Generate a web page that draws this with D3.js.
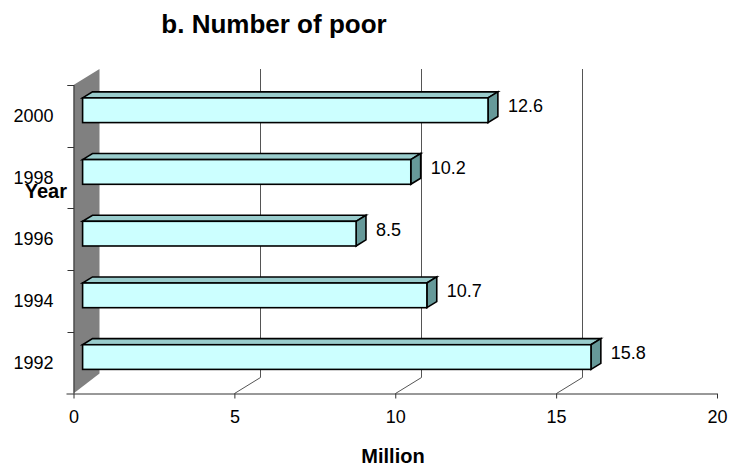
<!DOCTYPE html>
<html>
<head>
<meta charset="utf-8">
<script src="https://cdn.jsdelivr.net/npm/d3@7/dist/d3.min.js"></script>
<style>
  html, body { margin: 0; padding: 0; background: #fff; }
  svg { display: block; font-family: Arial, "Liberation Sans", sans-serif; }
</style>
</head>
<body>
<svg id="chart" width="734" height="468"></svg>
<script>
// Number of poor by survey year (million)
const years = ["1992", "1994", "1996", "1998", "2000"];
const poor = [15.8, 10.7, 8.5, 10.2, 12.6];
const xTicks = [0, 5, 10, 15, 20];

const svg = d3.select("#chart");
const W = 734, H = 468;

// front plane of the 3D plot box
const plot = { left: 73.5, right: 717, top: 85, bottom: 393.5 };
// depth vector of the box (towards the back wall)
const DX = 26, DY = -16;
// bars sit between these depth fractions
const dFront = 0.35, dBack = 0.73;

const x = d3.scaleLinear().domain([0, 20]).range([plot.left, plot.right]);
const y = d3.scaleBand().domain(years).range([plot.bottom, plot.top]).paddingInner(0).paddingOuter(0);
const barH = y.bandwidth() * 0.4;

// left wall
const wall = [
  [plot.left, plot.top], [plot.left + DX, plot.top + DY],
  [plot.left + DX, plot.bottom + DY - 4], [plot.left, plot.bottom]
];
svg.append("polygon")
  .attr("points", wall.map(p => p.join(",")).join(" "))
  .attr("fill", "#808080")
  .attr("stroke", "none");

// gridlines on the back wall, joined to the front axis by a floor diagonal
const grid = svg.append("g").attr("stroke", "#555").attr("stroke-width", 1).attr("fill", "none");
xTicks.filter(t => t > 0 && x(t) + DX < W).forEach(t => {
  const bx = Math.round(x(t) + DX) + 0.5;
  grid.append("path")
    .attr("d", `M${bx},${plot.top + DY} L${bx},${plot.bottom + DY} L${Math.round(x(t)) + 0.5},${plot.bottom}`);
});

// x axis
const xAxis = svg.append("g")
  .attr("transform", `translate(0,${plot.bottom})`)
  .call(d3.axisBottom(x).tickValues(xTicks).tickSize(5).tickPadding(12).tickFormat(d3.format("d")));
xAxis.select(".domain").attr("d", `M${plot.left - 7},0.5H${plot.right}`).attr("stroke", "#333");
xAxis.selectAll(".tick line").attr("stroke", "#333");
xAxis.selectAll(".tick text").attr("font-size", 18).attr("fill", "#000")
  .attr("font-family", "Arial, 'Liberation Sans', sans-serif");

// y axis: ticks on category boundaries, labels centred in each band
const yAxisG = svg.append("g").attr("transform", `translate(${plot.left},0)`);
yAxisG.append("line")
  .attr("x1", 0.5).attr("x2", 0.5).attr("y1", plot.top).attr("y2", plot.bottom)
  .attr("stroke", "#333");
const bounds = years.map(c => y(c)).concat([plot.top]);
yAxisG.selectAll("line.bt").data(bounds).join("line")
  .attr("class", "bt")
  .attr("x1", -6).attr("x2", 0.5)
  .attr("y1", d => Math.round(d) + 0.5).attr("y2", d => Math.round(d) + 0.5)
  .attr("stroke", "#333");
yAxisG.selectAll("text").data(years).join("text")
  .attr("x", -20)
  .attr("y", d => y(d) + y.bandwidth() / 2)
  .attr("text-anchor", "end")
  .attr("dominant-baseline", "central")
  .attr("font-size", 18)
  .text(d => d);

// 3D bars
const fdx = DX * dFront, fdy = DY * dFront;
const bdx = DX * (dBack - dFront), bdy = DY * (dBack - dFront);
const bars = svg.append("g");
years.forEach((c, i) => {
  const v = poor[i];
  const x0 = x(0) + fdx, x1 = x(v) + fdx;
  const cy = y(c) + y.bandwidth() / 2 + fdy;
  const yt = cy - barH / 2, yb = cy + barH / 2;
  const g = bars.append("g").attr("stroke", "#000").attr("stroke-width", 1.6).attr("stroke-linejoin", "miter");
  g.append("polygon")
    .attr("points", [[x0, yt], [x1, yt], [x1 + bdx, yt + bdy], [x0 + bdx, yt + bdy]].map(p => p.join(",")).join(" "))
    .attr("fill", "#99CCCC");
  g.append("polygon")
    .attr("points", [[x1, yt], [x1 + bdx, yt + bdy], [x1 + bdx, yb + bdy], [x1, yb]].map(p => p.join(",")).join(" "))
    .attr("fill", "#669999");
  g.append("rect")
    .attr("x", x0).attr("y", yt).attr("width", x1 - x0).attr("height", barH)
    .attr("fill", "#CCFFFF");
  svg.append("text")
    .attr("x", x1 + bdx + 10)
    .attr("y", cy + bdy * 0.65)
    .attr("dominant-baseline", "central")
    .attr("font-size", 18)
    .text(d3.format(".1f")(v));
});

// titles
svg.append("text")
  .attr("x", 274).attr("y", 33)
  .attr("text-anchor", "middle")
  .attr("font-size", 26).attr("font-weight", "bold")
  .text("b. Number of poor");

svg.append("text")
  .attr("x", 67).attr("y", 198)
  .attr("text-anchor", "end")
  .attr("font-size", 20).attr("font-weight", "bold")
  .text("Year");

svg.append("text")
  .attr("x", 393).attr("y", 463)
  .attr("text-anchor", "middle")
  .attr("font-size", 20).attr("font-weight", "bold")
  .text("Million");
</script>
</body>
</html>
